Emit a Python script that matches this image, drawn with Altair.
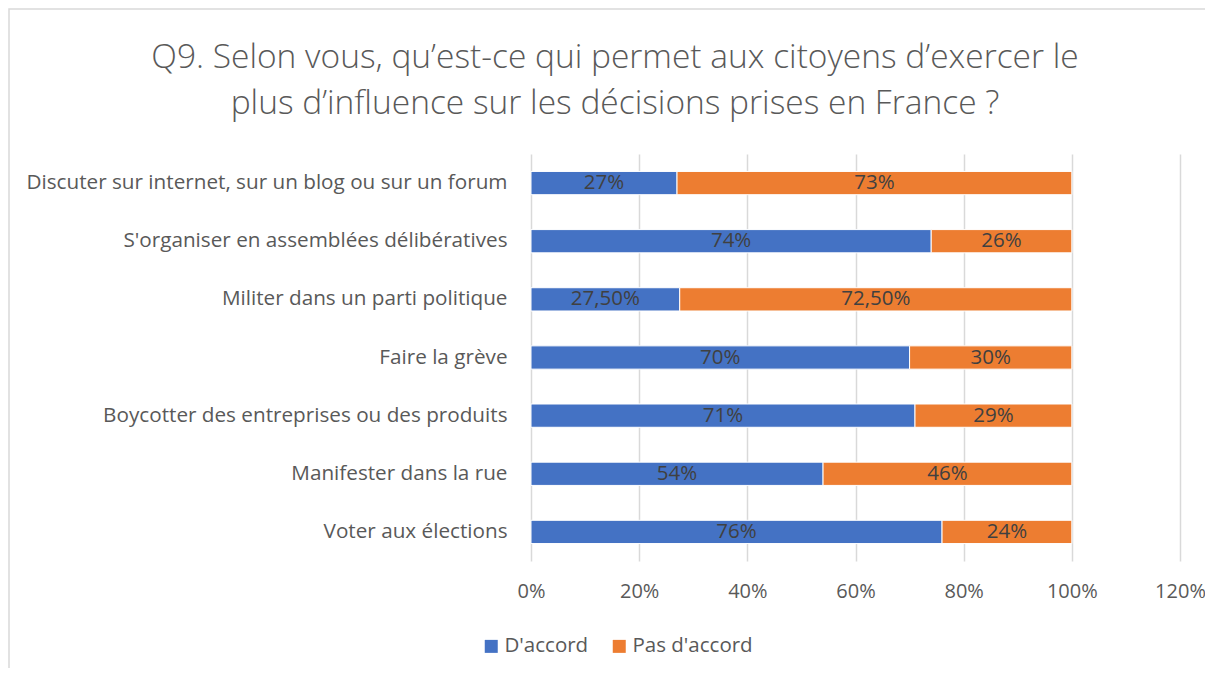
import altair as alt
import pandas as pd

title_lines = [
    "Q9. Selon vous, qu’est-ce qui permet aux citoyens d’exercer le",
    "plus d’influence sur les décisions prises en France ?",
]
categories = [
    "Discuter sur internet, sur un blog ou sur un forum",
    "S'organiser en assemblées délibératives",
    "Militer dans un parti politique",
    "Faire la grève",
    "Boycotter des entreprises ou des produits",
    "Manifester dans la rue",
    "Voter aux élections",
]
series = ["D'accord", "Pas d'accord"]
accord = [27, 74, 27.5, 70, 71, 54, 76]
pas_accord = [73, 26, 72.5, 30, 29, 46, 24]
accord_labels = ["27%", "74%", "27,50%", "70%", "71%", "54%", "76%"]
pas_accord_labels = ["73%", "26%", "72,50%", "30%", "29%", "46%", "24%"]
x_ticks = [0, 20, 40, 60, 80, 100, 120]
colors = ["#4472C4", "#ED7D31"]

rows = []
for c, a, p, la, lp in zip(categories, accord, pas_accord, accord_labels, pas_accord_labels):
    rows.append({"cat": c, "serie": series[0], "order": 0, "value": a, "label": la})
    rows.append({"cat": c, "serie": series[1], "order": 1, "value": p, "label": lp})
df = pd.DataFrame(rows)

FONT = "Open Sans"
W, H = 649, 407
PL, PT = 523, 146
PR = 1197 - PL - W
PB = 660 - PT - H

base = alt.Chart(df).transform_stack(
    stack="value", as_=["x0", "x1"], groupby=["cat"],
    sort=[alt.SortField("order", order="ascending")]
).transform_calculate(mid="(datum.x0 + datum.x1) / 2")

yenc = alt.Y("cat:N", sort=categories, title=None,
             scale=alt.Scale(paddingInner=0.6, paddingOuter=0.3),
             axis=alt.Axis(labelFontSize=20.7, labelColor="#595959", labelFont=FONT,
                           ticks=False, domain=False, labelPadding=24, labelLimit=600))

bars = base.mark_bar(stroke="white", strokeWidth=1).encode(
    x=alt.X("x0:Q", title=None,
            scale=alt.Scale(domain=[0, 120], nice=False),
            axis=alt.Axis(values=x_ticks, labelExpr="datum.value + '%'",
                          labelFontSize=20, labelColor="#595959", labelFont=FONT,
                          labelFlush=False, labelOverlap=False,
                          ticks=False, domain=False, labelPadding=20,
                          gridColor="#D9D9D9", gridWidth=1.5)),
    x2="x1:Q",
    y=yenc,
    color=alt.Color("serie:N", sort=series,
                    scale=alt.Scale(domain=series, range=colors),
                    legend=alt.Legend(title=None, orient="none", legendX=-50, legendY=482,
                                      direction="horizontal", symbolType="square",
                                      symbolSize=169, symbolStrokeWidth=0,
                                      labelFontSize=20.5, labelColor="#595959", labelFont=FONT,
                                      columnPadding=20, labelOffset=3)),
    order=alt.Order("order:Q"),
)

texts = base.mark_text(fontSize=20.5, color="#404040", font=FONT).encode(
    x=alt.X("mid:Q"),
    y=alt.Y("cat:N", sort=categories),
    text="label:N",
)

frame = alt.Chart(pd.DataFrame({"k": [0]})).mark_rect(
    fill=None, stroke="#D9D9D9", strokeWidth=1.5
).encode(
    x=alt.value(-PL + 1), x2=alt.value(W + PR + 20),
    y=alt.value(-PT + 1), y2=alt.value(H + PB + 20),
)

title1 = alt.Chart(pd.DataFrame({"k": [0]})).mark_text(
    text=title_lines[0], fontSize=33.5, font=FONT, fontWeight=300, color="#595959",
    align="center", baseline="alphabetic"
).encode(x=alt.value(84), y=alt.value(-86))
title2 = alt.Chart(pd.DataFrame({"k": [0]})).mark_text(
    text=title_lines[1], fontSize=33.5, font=FONT, fontWeight=300, color="#595959",
    align="center", baseline="alphabetic"
).encode(x=alt.value(84), y=alt.value(-40))

chart = alt.layer(frame, title1, title2, bars, texts).properties(
    width=W, height=H,
    padding={"left": PL, "top": PT, "right": PR, "bottom": PB},
    autosize=alt.AutoSizeParams(type="none"),
).configure_view(stroke=None).configure_axis(grid=True).configure_axisY(grid=False)

chart.save("out.html", embed_options={"renderer": "svg", "actions": False})
